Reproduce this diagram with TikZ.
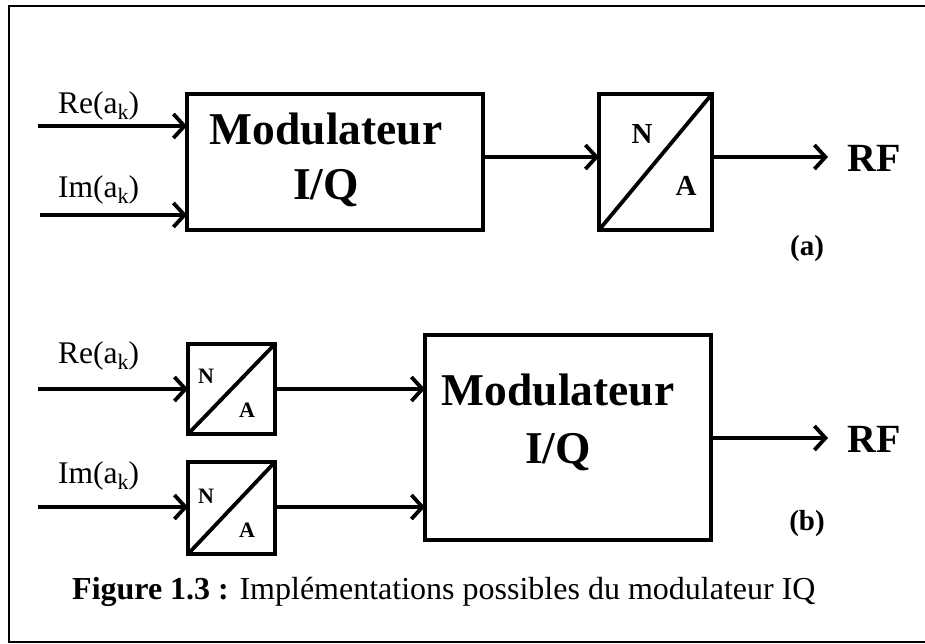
\documentclass[tikz,border=0pt]{standalone}
\usepackage{fontspec}
\setmainfont{Liberation Serif}
\usetikzlibrary{arrows.meta}
\tikzset{
  blk/.style={draw, line width=3.8pt, inner sep=0pt, outer sep=0pt},
  arr/.style={line width=3.8pt, -{Straight Barb[length=11pt,width=24pt,line width=3.8pt]}},
  diag/.style={line width=3.8pt, line cap=round},
  lbl/.style={inner sep=0pt, anchor=base west, font=\fontsize{31.5}{31.5}\selectfont},
  modtxt/.style={inner sep=0pt, anchor=base, font=\fontsize{45.5}{45.5}\selectfont\bfseries},
  naA/.style={inner sep=0pt, anchor=base, font=\fontsize{29}{29}\selectfont\bfseries},
  naB/.style={inner sep=0pt, anchor=base, font=\fontsize{22}{22}\selectfont\bfseries},
  rf/.style={inner sep=0pt, anchor=base west, font=\fontsize{40}{40}\selectfont\bfseries},
  sub/.style={inner sep=0pt, anchor=base, font=\fontsize{29}{29}\selectfont\bfseries},
}
\newcommand{\ak}{a\raisebox{-0.2em}{\fontsize{22}{22}\selectfont k}}
\begin{document}
\begin{tikzpicture}[x=1pt,y=-1pt]
\useasboundingbox (0,0) rectangle (925,643);
% frame
\draw[line width=2pt] (8.5,6) rectangle (930,642);

% ---------- (a) ----------
\node[blk, minimum width=296pt, minimum height=136pt] (modA) at (335,162) {};
\node[blk, minimum width=113pt, minimum height=136pt] (naA) at (655.5,162) {};
\draw[diag] (naA.south west) -- (naA.north east);
\node[naA] (naAN) at (642,143) {N};
\node[naA] (naAA) at (686,195) {A};
\node[modtxt] (modAt1) at (326,144) {Modulateur};
\node[modtxt] (modAt2) at (326,199) {I/Q};

\coordinate (reA) at (38,126);
\coordinate (imA) at (40,215);
\node[lbl] (reAl) at (58,113) {Re(\ak)};
\node[lbl] (imAl) at (58,197) {Im(\ak)};
\draw[arr] (reA) -- (reA -| modA.west);
\draw[arr] (imA) -- (imA -| modA.west);
\draw[arr] (modA.east |- 0,157) -- (naA.west |- 0,157);
\node[rf] (rfA) at (847,171) {RF};
\coordinate (rfAend) at (828,157);
\draw[arr] (naA.east |- rfAend) -- (rfAend);
\node[sub] (labA) at (807,255) {(a)};

% ---------- (b) ----------
\node[blk, minimum width=87pt, minimum height=90pt] (na1) at (231.5,389) {};
\node[blk, minimum width=87pt, minimum height=92pt] (na2) at (231.5,508) {};
\draw[diag] (na1.south west) -- (na1.north east);
\draw[diag] (na2.south west) -- (na2.north east);
\node[naB] (na1N) at (206,383) {N};
\node[naB] (na1A) at (247,417) {A};
\node[naB] (na2N) at (206,503) {N};
\node[naB] (na2A) at (247,537) {A};
\node[blk, minimum width=286pt, minimum height=205pt] (modB) at (568,437.5) {};
\node[modtxt] (modBt1) at (558,405) {Modulateur};
\node[modtxt] (modBt2) at (558,463) {I/Q};

\coordinate (reB) at (38,389);
\coordinate (imB) at (38,507);
\node[lbl] (reBl) at (58,363) {Re(\ak)};
\node[lbl] (imBl) at (58,483) {Im(\ak)};
\draw[arr] (reB) -- (reB -| na1.west);
\draw[arr] (imB) -- (imB -| na2.west);
\draw[arr] (na1.east |- reB) -- (modB.west |- reB);
\draw[arr] (na2.east |- imB) -- (modB.west |- imB);
\node[rf] (rfB) at (847,452) {RF};
\coordinate (rfBend) at (828,438);
\draw[arr] (modB.east |- rfBend) -- (rfBend);
\node[sub] (labB) at (807,530) {(b)};

% caption
\node[inner sep=0pt, anchor=base west, font=\fontsize{32}{32}\selectfont] (cap) at (72,599) {\textbf{Figure 1.3 :} Implémentations possibles du modulateur IQ};
\end{tikzpicture}
\end{document}
